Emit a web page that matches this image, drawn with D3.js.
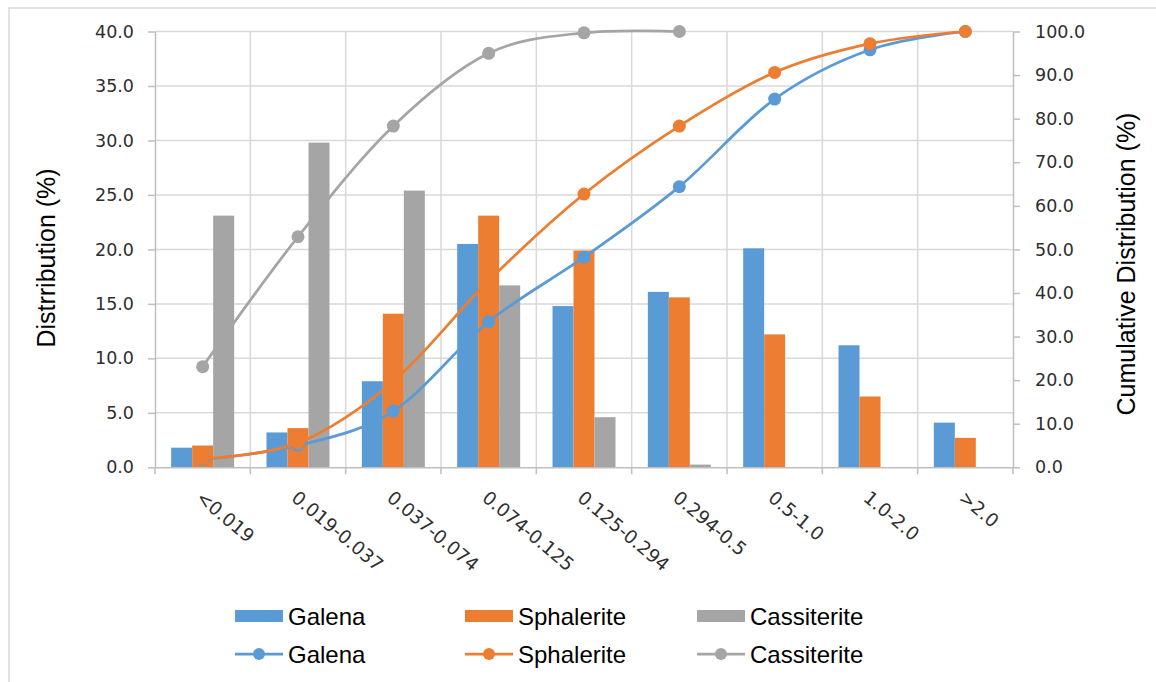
<!DOCTYPE html>
<html>
<head>
<meta charset="utf-8">
<script src="https://cdn.jsdelivr.net/npm/d3@7"></script>
<style>
  body { margin: 0; background: #fff; }
</style>
</head>
<body>
<div id="chart"></div>
<script>
// size fractions (mm) and the three minerals
const categories = ['<0.019', '0.019-0.037', '0.037-0.074', '0.074-0.125', '0.125-0.294', '0.294-0.5', '0.5-1.0', '1.0-2.0', '>2.0'];
const seriesNames = ['Galena', 'Sphalerite', 'Cassiterite'];

// distribution (%) - bars, left axis
const galenaDist = [1.8, 3.2, 7.9, 20.5, 14.8, 16.1, 20.1, 11.2, 4.1];
const sphaleriteDist = [2.0, 3.6, 14.1, 23.1, 19.9, 15.6, 12.2, 6.5, 2.7];
const cassiteriteDist = [23.1, 29.8, 25.4, 16.7, 4.6, 0.25, null, null, null];

// cumulative distribution (%) - lines, right axis
const galenaCum = [1.8, 5.0, 12.9, 33.4, 48.2, 64.4, 84.5, 95.8, 100.0];
const sphaleriteCum = [2.0, 5.6, 19.7, 42.8, 62.7, 78.3, 90.6, 97.2, 100.0];
const cassiteriteCum = [23.1, 52.9, 78.3, 95.0, 99.7, 100.0, null, null, null];

const leftTicks = [0, 5, 10, 15, 20, 25, 30, 35, 40];
const rightTicks = [0, 10, 20, 30, 40, 50, 60, 70, 80, 90, 100];

const colors = ['#5B9BD5', '#ED7D31', '#A5A5A5'];
const distSeries = [galenaDist, sphaleriteDist, cassiteriteDist];
const cumSeries = [galenaCum, sphaleriteCum, cassiteriteCum];

const width = 1156;
const height = 682;
const plot = { left: 155, right: 1013, top: 31.5, bottom: 467.3 };

const svg = d3.select('#chart')
  .append('svg')
  .attr('width', width)
  .attr('height', height);

// chart area border
svg.append('rect')
  .attr('x', 9).attr('y', 8)
  .attr('width', 1170).attr('height', 700)
  .attr('fill', '#fff')
  .attr('stroke', '#D9D9D9')
  .attr('stroke-width', 1.5);

const x = d3.scaleBand()
  .domain(categories)
  .range([plot.left, plot.right])
  .paddingInner(0)
  .paddingOuter(0);

const xSub = d3.scaleBand()
  .domain(seriesNames)
  .range([0, x.bandwidth()])
  .paddingInner(0)
  .paddingOuter(0.77);

const yLeft = d3.scaleLinear().domain([0, 40]).range([plot.bottom, plot.top]);
const yRight = d3.scaleLinear().domain([0, 100]).range([plot.bottom, plot.top]);

const boundaries = categories.map((c) => x(c)).concat([x.range()[1]]);

// gridlines
const grid = svg.append('g').attr('stroke', '#D9D9D9').attr('stroke-width', 1.5);
grid.selectAll('.hgrid')
  .data(leftTicks.slice(1))
  .enter()
  .append('line')
  .attr('x1', plot.left).attr('x2', plot.right)
  .attr('y1', (d) => yLeft(d)).attr('y2', (d) => yLeft(d));
grid.selectAll('.vgrid')
  .data(boundaries.slice(1, -1))
  .enter()
  .append('line')
  .attr('x1', (d) => d).attr('x2', (d) => d)
  .attr('y1', plot.top).attr('y2', plot.bottom);

// bars
seriesNames.forEach((name, si) => {
  svg.append('g')
    .selectAll('rect')
    .data(categories.map((c, i) => ({ c, v: distSeries[si][i] })).filter((d) => d.v !== null))
    .enter()
    .append('rect')
    .attr('x', (d) => x(d.c) + xSub(name))
    .attr('width', xSub.bandwidth())
    .attr('y', (d) => yLeft(d.v))
    .attr('height', (d) => yLeft(0) - yLeft(d.v))
    .attr('fill', colors[si]);
});

// axes
const axisColor = '#BFBFBF';
const tickColor = '#2e2e2e';
const tickFont = '"DejaVu Sans", sans-serif';

const leftAxis = svg.append('g')
  .attr('transform', `translate(${plot.left},0)`)
  .call(d3.axisLeft(yLeft).tickValues(leftTicks).tickSize(7).tickSizeOuter(0).tickPadding(14)
    .tickFormat(d3.format('.1f')));

const rightAxis = svg.append('g')
  .attr('transform', `translate(${plot.right},0)`)
  .call(d3.axisRight(yRight).tickValues(rightTicks).tickSize(7).tickSizeOuter(0).tickPadding(15)
    .tickFormat(d3.format('.1f')));

const bottomAxis = svg.append('g')
  .attr('transform', `translate(0,${plot.bottom})`)
  .call(d3.axisBottom(x).tickSize(0).tickSizeOuter(0).tickFormat(''));

[leftAxis, rightAxis, bottomAxis].forEach((ax) => {
  ax.select('.domain').attr('stroke', axisColor).attr('stroke-width', 1.5);
  ax.selectAll('.tick line').attr('stroke', axisColor).attr('stroke-width', 1.5);
  ax.selectAll('.tick text')
    .attr('fill', tickColor)
    .style('font-family', tickFont)
    .style('font-size', '17.5px');
});

// category boundary ticks
bottomAxis.selectAll('.btick')
  .data(boundaries)
  .enter()
  .append('line')
  .attr('x1', (d) => d).attr('x2', (d) => d)
  .attr('y1', 0).attr('y2', 7)
  .attr('stroke', axisColor)
  .attr('stroke-width', 1.5);

// rotated category labels
svg.append('g')
  .selectAll('text')
  .data(categories)
  .enter()
  .append('text')
  .attr('transform', (d) => `translate(${x(d) + x.bandwidth() / 2 + 1},${plot.bottom + 22}) rotate(40)`)
  .attr('dy', '0.73em')
  .attr('text-anchor', 'start')
  .attr('fill', tickColor)
  .style('font-family', tickFont)
  .style('font-size', '18.5px')
  .text((d) => d);

// cumulative lines
const line = d3.line()
  .defined((d) => d.v !== null)
  .x((d) => x(d.c) + x.bandwidth() / 2)
  .y((d) => yRight(d.v))
  .curve(d3.curveCardinal);

seriesNames.forEach((name, si) => {
  const pts = categories.map((c, i) => ({ c, v: cumSeries[si][i] })).filter((d) => d.v !== null);
  const g = svg.append('g');
  g.append('path')
    .datum(pts)
    .attr('d', line)
    .attr('fill', 'none')
    .attr('stroke', colors[si])
    .attr('stroke-width', 2.75);
  g.selectAll('circle')
    .data(pts)
    .enter()
    .append('circle')
    .attr('cx', (d) => x(d.c) + x.bandwidth() / 2)
    .attr('cy', (d) => yRight(d.v))
    .attr('r', 6.5)
    .attr('fill', colors[si]);
});

// axis titles
const titleFont = '"Liberation Sans", Arial, sans-serif';
svg.append('text')
  .attr('transform', 'translate(55,258) rotate(-90)')
  .attr('text-anchor', 'middle')
  .style('font-family', titleFont)
  .style('font-size', '25px')
  .attr('fill', '#000')
  .text('Distrribution (%)');

svg.append('text')
  .attr('transform', 'translate(1135,264) rotate(-90)')
  .attr('text-anchor', 'middle')
  .style('font-family', titleFont)
  .style('font-size', '25px')
  .attr('fill', '#000')
  .text('Cumulative Distribution (%)');

// legend
const legendX = [235, 465, 697];
const legend = svg.append('g');
seriesNames.forEach((name, i) => {
  const lx = legendX[i];
  legend.append('rect')
    .attr('x', lx).attr('y', 610)
    .attr('width', 48).attr('height', 12)
    .attr('fill', colors[i]);
  legend.append('text')
    .attr('x', lx + 53).attr('y', 616)
    .attr('dy', '0.36em')
    .style('font-family', titleFont)
    .style('font-size', '24px')
    .attr('fill', '#000')
    .text(name);

  legend.append('line')
    .attr('x1', lx).attr('x2', lx + 48)
    .attr('y1', 654).attr('y2', 654)
    .attr('stroke', colors[i])
    .attr('stroke-width', 2.75);
  legend.append('circle')
    .attr('cx', lx + 24).attr('cy', 654)
    .attr('r', 6)
    .attr('fill', colors[i]);
  legend.append('text')
    .attr('x', lx + 53).attr('y', 654)
    .attr('dy', '0.36em')
    .style('font-family', titleFont)
    .style('font-size', '24px')
    .attr('fill', '#000')
    .text(name);
});
</script>
</body>
</html>
